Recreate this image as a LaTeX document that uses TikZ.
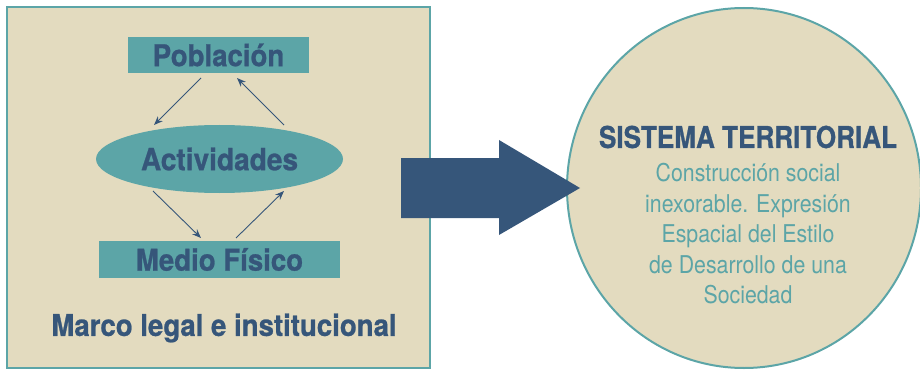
\documentclass[tikz,border=0pt]{standalone}
\usepackage{fontspec}
\setmainfont[FakeStretch=0.87]{TeX Gyre Heros}
\newfontfamily\panelfont[FakeStretch=0.92, BoldFeatures={FakeBold=0.8}]{TeX Gyre Heros}
\newfontfamily\circfont[FakeStretch=0.87, BoldFeatures={FakeBold=0.8}]{TeX Gyre Heros}
\usetikzlibrary{shapes.geometric,arrows.meta}
\definecolor{tan}{HTML}{E3DBBF}
\definecolor{teal}{HTML}{5CA5A7}
\definecolor{navy}{HTML}{36567A}
\tikzset{
  panel/.style={draw=teal, line width=2pt, fill=tan},
  labelbox/.style={fill=teal, inner sep=0pt, text=navy, font=\panelfont\fontsize{30}{30}\selectfont\bfseries},
  flow/.style={draw=navy, line width=0.9pt, -{Stealth[length=9pt,width=7pt]}},
  bigarrow/.style={fill=navy, draw=none},
  caption/.style={text=navy, font=\panelfont\fontsize{30}{30}\selectfont\bfseries},
  title/.style={text=navy, font=\circfont\fontsize{30}{30}\selectfont\bfseries},
  body/.style={text=teal, align=center, font=\circfont\fontsize{24.5}{30.5}\selectfont}
}
\begin{document}
\begin{tikzpicture}[x=1pt,y=1pt]
\useasboundingbox (0,0) rectangle (920,370);
% left panel
\draw[panel] (7,2) rectangle (430,363);
% right disc, clipped at the page edge
\begin{scope}
\clip (0,0) rectangle (920,370);
\node[panel, ellipse, minimum width=354pt, minimum height=360pt, inner sep=0pt] (sys) at (744,182) {};
\end{scope}
% boxes
\node[labelbox, minimum width=181pt, minimum height=36pt] (pob) at (218.5,315) {Población};
\node[labelbox, ellipse, minimum width=247pt, minimum height=68pt, font=\panelfont\fontsize{30.5}{30.5}\selectfont\bfseries] (act) at (219.5,211) {Actividades};
\node[labelbox, minimum width=241pt, minimum height=37pt] (med) at (219.5,110.5) {Medio Físico};
\node[caption] (marco) at (224,42) {Marco legal e institucional};
% connectors
\coordinate (a1s) at (201,292);
\coordinate (a1e) at (154,245);
\coordinate (a2s) at (284,245);
\coordinate (a2e) at (237,292);
\coordinate (a3s) at (153,179);
\coordinate (a3e) at (201,132);
\coordinate (a4s) at (236,132);
\coordinate (a4e) at (284,179);
\draw[flow] (a1s) -- (a1e);
\draw[flow] (a2s) -- (a2e);
\draw[flow] (a3s) -- (a3e);
\draw[flow] (a4s) -- (a4e);
% big arrow
\fill[bigarrow] (401,212) -- (499,212) -- (499,230) -- (580,182) -- (499,135) -- (499,152) -- (401,152) -- cycle;
% text in the disc
\node[title] (st) at (748,233) {SISTEMA TERRITORIAL};
\node[body, anchor=north] (desc) at (748,210) {Construcción social\\inexorable. Expresión\\Espacial del Estilo\\de Desarrollo de una\\Sociedad};
\end{tikzpicture}
\end{document}
